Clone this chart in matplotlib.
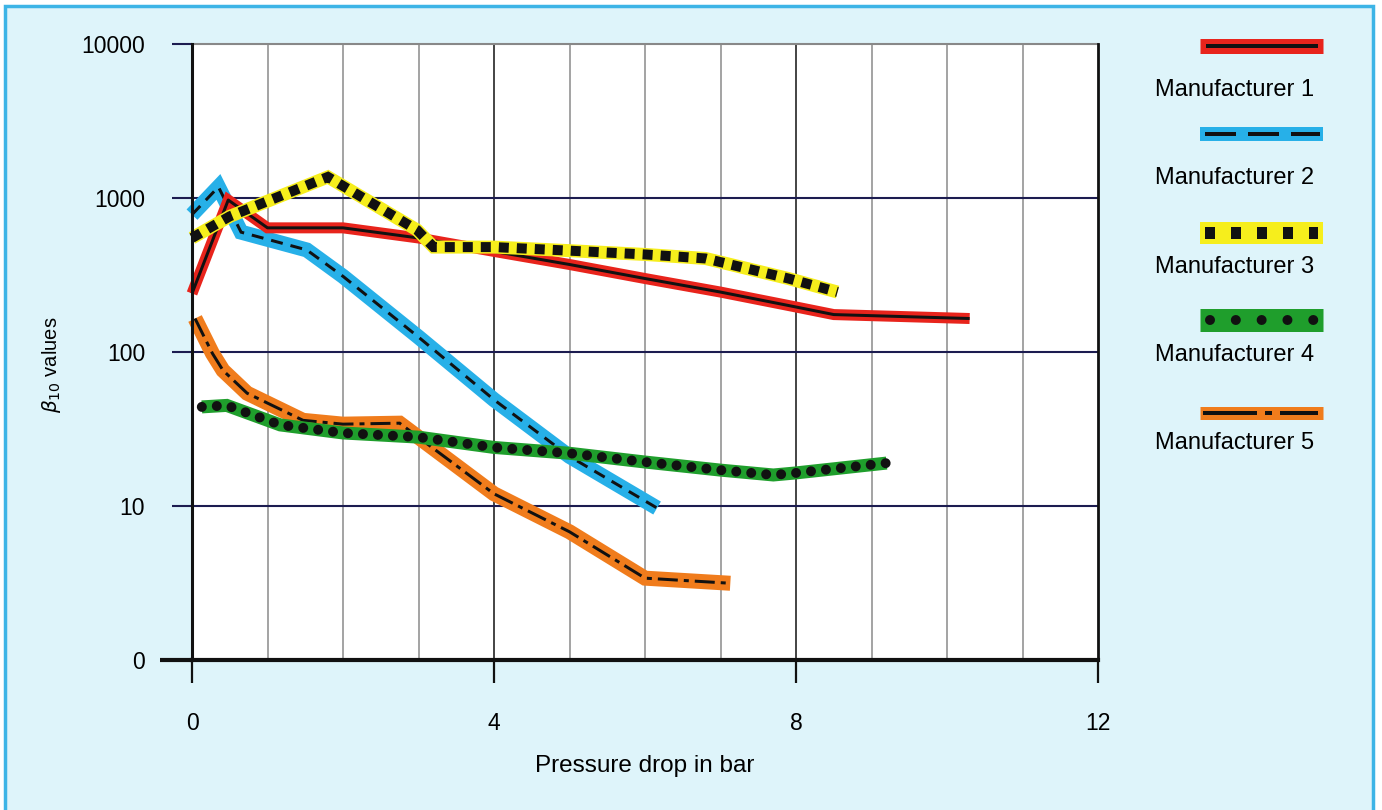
import matplotlib
matplotlib.use("Agg")
import matplotlib.pyplot as plt
from matplotlib.lines import Line2D
from matplotlib.patches import Rectangle
import numpy as np

plt.rcParams['font.family'] = ['Liberation Sans', 'DejaVu Sans']
plt.rcParams['lines.scale_dashes'] = False

# ---------------- data ----------------
m1_x = [0.0, 0.48, 1.0, 2.0, 3.0, 4.0, 5.0, 6.0, 7.0, 8.0, 8.5, 10.3]
m1_y = [240, 970, 640, 640, 550, 450, 370, 300, 245, 196, 175, 165]

m2_x = [0.0, 0.35, 0.65, 1.52, 2.0, 3.0, 4.0, 5.0, 6.16]
m2_y = [780, 1180, 600, 460, 310, 125, 49, 21, 9.7]

m3_x = [0.0, 0.5, 1.8, 2.98, 3.2, 4.0, 5.0, 6.0, 6.8, 7.9, 8.55]
m3_y = [550, 760, 1370, 620, 480, 480, 455, 430, 405, 300, 245]

m4_x = [0.13, 0.46, 1.17, 2.0, 3.0, 4.0, 5.0, 6.0, 7.0, 7.7, 8.0, 9.2]
m4_y = [44, 45, 33.6, 29.8, 28, 24, 22, 19.3, 17.1, 15.9, 16.4, 19]

m5_x = [0.04, 0.27, 0.41, 0.73, 1.47, 2.0, 2.75, 4.0, 5.0, 6.0, 7.13]
m5_y = [165, 98, 76, 54, 36, 34, 34.5, 12, 6.8, 3.4, 3.15]

labels = ["Manufacturer 1", "Manufacturer 2", "Manufacturer 3",
          "Manufacturer 4", "Manufacturer 5"]
x_ticks = [0, 4, 8, 12]
y_ticks = [1, 10, 100, 1000, 10000]
y_tick_labels = ["0", "10", "100", "1000", "10000"]

# ---------------- styles ----------------
PX = 0.72  # points per pixel at dpi 100
RED, BLUE, YELLOW, GREEN, ORANGE = "#e8241c", "#27b0e8", "#f6ee1c", "#1f9e2c", "#f07c1c"
BG = "#def4fa"
DOT = 0.01

styles = [
    dict(color=RED, band=11, inner=dict(lw=3 * PX, ls='-', cap='butt'), z=3),
    dict(color=BLUE, band=15, inner=dict(lw=3 * PX, ls=(0, (12 * PX, 8 * PX)), cap='butt'), z=2),
    dict(color=YELLOW, band=13, inner=dict(lw=10 * PX, ls=(0, (10 * PX, 8 * PX)), cap='butt'), z=4),
    dict(color=GREEN, band=13, inner=dict(lw=10 * PX, ls=(0, (DOT, 15 * PX)), cap='round'), z=5),
    dict(color=ORANGE, band=15, inner=dict(lw=3 * PX, ls=(0, (20 * PX, 6 * PX, 5 * PX, 6 * PX)), cap='butt'), z=2.5),
]
series = [(m1_x, m1_y), (m2_x, m2_y), (m3_x, m3_y), (m4_x, m4_y), (m5_x, m5_y)]

W, H = 1382, 810
fig = plt.figure(figsize=(W / 100, H / 100), dpi=100)
fig.patch.set_facecolor("white")
bg = Rectangle((5 / W, -0.01), (1373 - 5) / W, (H - 6) / H + 0.01,
               transform=fig.transFigure, facecolor=BG,
               edgecolor="#3db4e6", linewidth=2.5, zorder=-10)
fig.add_artist(bg)

ax = fig.add_axes([192 / W, 1 - 660 / H, (1098 - 192) / W, (660 - 44) / H])
ax.set_zorder(1)
ax.set_facecolor("white")
ax.set_yscale("log")
ax.set_xlim(0, 12)
ax.set_ylim(1, 10000)

# grid
for xv in range(1, 12):
    c = "#111111" if xv % 4 == 0 else "#8a8a8a"
    ax.axvline(xv, color=c, lw=1.1, zorder=1)
for yv in [10, 100, 1000]:
    ax.axhline(yv, color="#1c1c50", lw=1.5, zorder=1)
ax.axhline(10000, color="#888888", lw=1.5, zorder=1, clip_on=False)

ax.spines["top"].set_visible(False)
ax.spines["left"].set_linewidth(2.2)
ax.spines["right"].set_linewidth(2.0)
ax.spines["bottom"].set_linewidth(3.0)
for s in ax.spines.values():
    s.set_color("#111111")
    s.set_zorder(6)
# extend the base line to the left
ax.plot([-0.42, 0], [1, 1], color="#111111", lw=3.0, clip_on=False, zorder=6,
        solid_capstyle='butt')

FS = 16.5
ax.set_xticks(x_ticks)
ax.set_xticklabels([str(v) for v in x_ticks])
ax.xaxis.set_minor_locator(matplotlib.ticker.NullLocator())
ax.tick_params(axis='x', direction='out', length=23 * PX, width=1.6, color="#111111",
               pad=29 * PX, labelsize=FS)
ax.set_yticks(y_ticks)
ax.set_yticklabels(y_tick_labels)
ax.yaxis.set_minor_locator(matplotlib.ticker.NullLocator())
ax.tick_params(axis='y', direction='out', length=20 * PX, width=1.5, color="#1c1c50",
               pad=27 * PX, labelsize=FS)

ax.set_xlabel("Pressure drop in bar", fontsize=17.5, labelpad=20 * PX)
ax.set_ylabel(r"$\beta_{10}$ values", fontsize=14.5, labelpad=0)
ax.yaxis.set_label_coords(-0.142, 0.48)

# series
for (xs, ys), st in zip(series, styles):
    ax.plot(xs, ys, color=st["color"], lw=st["band"] * PX, solid_joinstyle='miter',
            solid_capstyle='butt', zorder=st["z"], clip_on=False)
    inn = st["inner"]
    ax.plot(xs, ys, color="#111111", lw=inn["lw"], linestyle=inn["ls"],
            dash_capstyle=inn["cap"], solid_capstyle='butt', dash_joinstyle='miter',
            zorder=st["z"] + 0.05, clip_on=False)

# legend (custom, label below each sample)
lax = fig.add_axes([0, 0, 1, 1], facecolor="none")
lax.set_zorder(2)
lax.set_xlim(0, W)
lax.set_ylim(H, 0)
lax.axis("off")
band_y = [46, 134, 233, 320, 413]
text_y = [90, 178, 267, 355, 443]
leg_band = [15, 14, 22, 23, 13]
leg_inner = [
    dict(lw=4 * PX, ls='-', x0=1206, x1=1318),
    dict(lw=4 * PX, ls=(0, (31 * PX, 12 * PX)), x0=1205, x1=1320),
    dict(lw=12 * PX, ls=(0, (10 * PX, 16 * PX)), x0=1205, x1=1318),
    dict(lw=10 * PX, ls=(0, (DOT, 25.8 * PX)), x0=1210, x1=1315, cap='round'),
    dict(lw=4 * PX, ls=(0, (54 * PX, 8 * PX, 7 * PX, 8 * PX)), x0=1203, x1=1318),
]
for i, st in enumerate(styles):
    lax.add_line(Line2D([1200, 1323], [band_y[i], band_y[i]], color=st["color"],
                        lw=leg_band[i] * PX, solid_capstyle='butt'))
    li = leg_inner[i]
    lax.add_line(Line2D([li["x0"], li["x1"]], [band_y[i], band_y[i]], color="#111111",
                        lw=li["lw"], linestyle=li["ls"],
                        dash_capstyle=li.get("cap", 'butt'), solid_capstyle='butt'))
    lax.text(1155, text_y[i], labels[i], fontsize=17, ha='left', va='center')

fig.savefig("out.png", dpi=100, facecolor=fig.get_facecolor())
